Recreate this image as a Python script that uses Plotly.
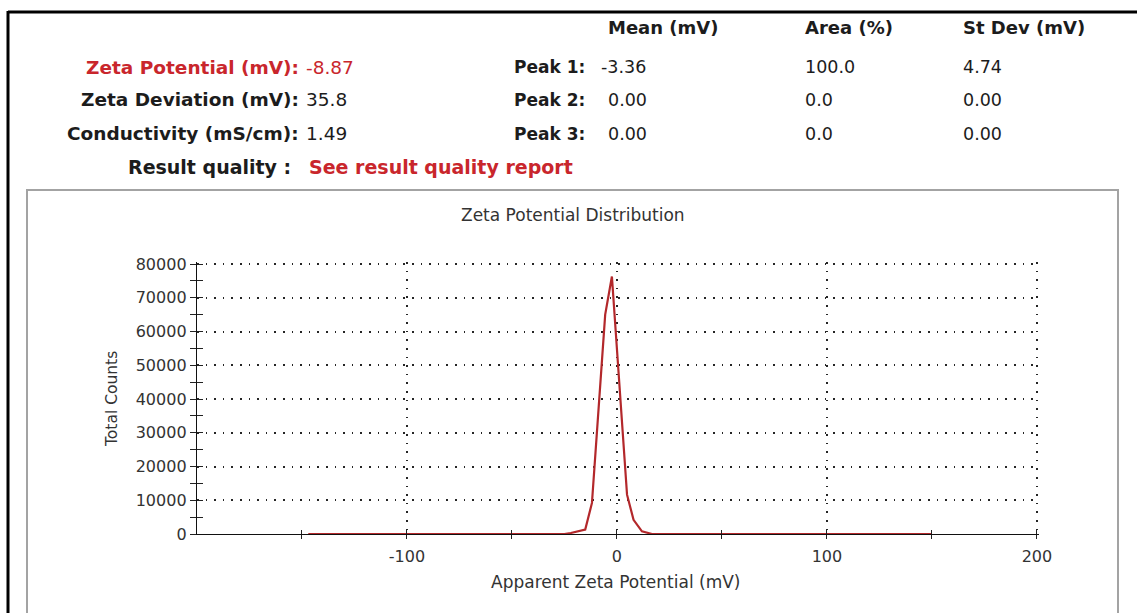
import plotly.graph_objects as go

# ---- data -----------------------------------------------------------
zeta_mv = [-147, -25, -22, -15.1, -11.9, -5.6, -2.4, 4.8, 7.9, 11.9, 16.7, 150]
total_counts = [0, 0, 300, 1300, 9200, 65000, 76300, 11650, 4200, 800, 0, 0]

x_major = [-100, 0, 100, 200]
x_minor = [-150, -50, 50, 150]
y_major = [0, 10000, 20000, 30000, 40000, 50000, 60000, 70000, 80000]
y_minor = [5000, 15000, 25000, 35000, 45000, 55000, 65000, 75000]

summary_labels = ["Zeta Potential (mV):", "Zeta Deviation (mV):", "Conductivity (mS/cm):"]
summary_values = ["-8.87", "35.8", "1.49"]
peak_labels = ["Peak 1:", "Peak 2:", "Peak 3:"]
col_headers = ["Mean (mV)", "Area (%)", "St Dev (mV)"]
peak_mean = ["-3.36", "0.00", "0.00"]
peak_area = ["100.0", "0.0", "0.0"]
peak_sd = ["4.74", "0.00", "0.00"]
quality_label = "Result quality :"
quality_value = "See result quality report"

# ---- geometry helpers ----------------------------------------------
W, H = 1137, 613
L, R, T, B = 197, 98, 262, 79
PW, PH = W - L - R, H - T - B


def px(x):
    return (x - L) / PW


def py(y):
    return (H - B - y) / PH


FONT = "DejaVu Sans"
RED = "#c9262c"
DARK = "#1c1c1c"
GREY_TXT = "#333333"

fig = go.Figure()
fig.add_trace(go.Scatter(
    x=zeta_mv, y=total_counts, mode="lines",
    line=dict(color="#b3282b", width=2.2),
    cliponaxis=False, showlegend=False, hoverinfo="x+y",
))
# invisible copy on overlay axes so their crossing ticks get drawn
fig.add_trace(go.Scatter(
    x=zeta_mv, y=total_counts, mode="lines", xaxis="x2", yaxis="y2",
    line=dict(color="rgba(0,0,0,0)", width=0), showlegend=False, hoverinfo="skip",
))

grid = dict(showgrid=True, gridcolor="#262626", gridwidth=1.6, griddash="1.6px,7px")
X_RANGE = [-200, 201]
Y_RANGE = [0, 80600]

fig.update_layout(
    width=W, height=H,
    margin=dict(l=L, r=R, t=T, b=B, pad=0),
    paper_bgcolor="white", plot_bgcolor="white",
    font=dict(family=FONT, color=GREY_TXT),
    xaxis=dict(
        range=X_RANGE, tickvals=x_major, ticktext=["-100", "0", "100", "200"],
        ticks="outside", ticklen=4, tickwidth=1.2, tickcolor="#222",
        minor=dict(tickvals=x_minor, ticks="outside", ticklen=4, tickwidth=1.2, tickcolor="#222", showgrid=False),
        showline=True, linecolor="#111", linewidth=1.4, zeroline=False,
        tickfont=dict(family=FONT, size=16, color=GREY_TXT), ticklabelstandoff=4,
        layer="below traces", fixedrange=True, **grid,
    ),
    yaxis=dict(
        range=Y_RANGE, tickvals=y_major,
        ticks="outside", ticklen=6, tickwidth=1.2, tickcolor="#222",
        minor=dict(tickvals=y_minor, ticks="outside", ticklen=6, tickwidth=1.2, tickcolor="#222", showgrid=False),
        showline=True, linecolor="#111", linewidth=1.4, zeroline=False,
        tickfont=dict(family=FONT, size=16, color=GREY_TXT), tickformat="d",
        layer="below traces", fixedrange=True, **grid,
    ),
    xaxis2=dict(
        overlaying="x", anchor="y2", range=X_RANGE, tickvals=x_major,
        ticks="inside", ticklen=4, tickwidth=1.2, tickcolor="#222",
        minor=dict(tickvals=x_minor, ticks="inside", ticklen=4, tickwidth=1.2, tickcolor="#222"),
        showticklabels=False, showgrid=False, showline=False, zeroline=False, fixedrange=True,
    ),
    yaxis2=dict(
        overlaying="y", anchor="x2", range=Y_RANGE, tickvals=y_major,
        ticks="inside", ticklen=6, tickwidth=1.2, tickcolor="#222",
        minor=dict(tickvals=y_minor, ticks="inside", ticklen=6, tickwidth=1.2, tickcolor="#222"),
        showticklabels=False, showgrid=False, showline=False, zeroline=False, fixedrange=True,
    ),
)

ann = []


def text(x, y, s, size, color, bold=False, anchor="left", angle=0):
    ann.append(dict(
        x=px(x), y=py(y), xref="paper", yref="paper", showarrow=False,
        text=f"<b>{s}</b>" if bold else s, xanchor=anchor, yanchor="middle",
        textangle=angle, font=dict(family=FONT, size=size, color=color),
        borderpad=0,
    ))


LS = 18.5   # left-hand summary block
PS = 17     # peak table
row_y = [67, 100, 134]
for i, lab in enumerate(summary_labels):
    c = RED if i == 0 else DARK
    text(300, row_y[i], lab, LS, c, bold=True, anchor="right")
    text(305, row_y[i], summary_values[i], LS, c)
for i, lab in enumerate(peak_labels):
    text(586, row_y[i], lab, PS, DARK, bold=True, anchor="right")
    text(600 if peak_mean[i].startswith("-") else 607, row_y[i], peak_mean[i], PS + 0.5, DARK)
    text(804, row_y[i], peak_area[i], PS + 0.5, DARK)
    text(962, row_y[i], peak_sd[i], PS + 0.5, DARK)
for xh, h in zip([607, 804, 962], col_headers):
    text(xh, 27, h, 18, DARK, bold=True)
text(292, 167, quality_label, 19, DARK, bold=True, anchor="right")
text(308, 167, quality_value, 19, RED, bold=True)

# chart titles
text(573, 215, "Zeta Potential Distribution", 17, GREY_TXT, anchor="center")
text(615, 582, "Apparent Zeta Potential (mV)", 17, GREY_TXT, anchor="center")
text(112, 399, "Total Counts", 15.5, GREY_TXT, anchor="center", angle=-90)
fig.update_layout(annotations=ann)

shapes = [
    # outer black frame (top + left)
    dict(type="line", xref="paper", yref="paper", x0=px(8), x1=px(1145), y0=py(12), y1=py(12),
         line=dict(color="black", width=3)),
    dict(type="line", xref="paper", yref="paper", x0=px(8), x1=px(8), y0=py(11), y1=py(625),
         line=dict(color="black", width=3)),
    # grey chart panel
    dict(type="rect", xref="paper", yref="paper", x0=px(27), x1=px(1118), y0=py(190), y1=py(640),
         line=dict(color="#a3a3a3", width=2), layer="below"),
]
fig.update_layout(shapes=shapes)

fig.write_html("out.html")
